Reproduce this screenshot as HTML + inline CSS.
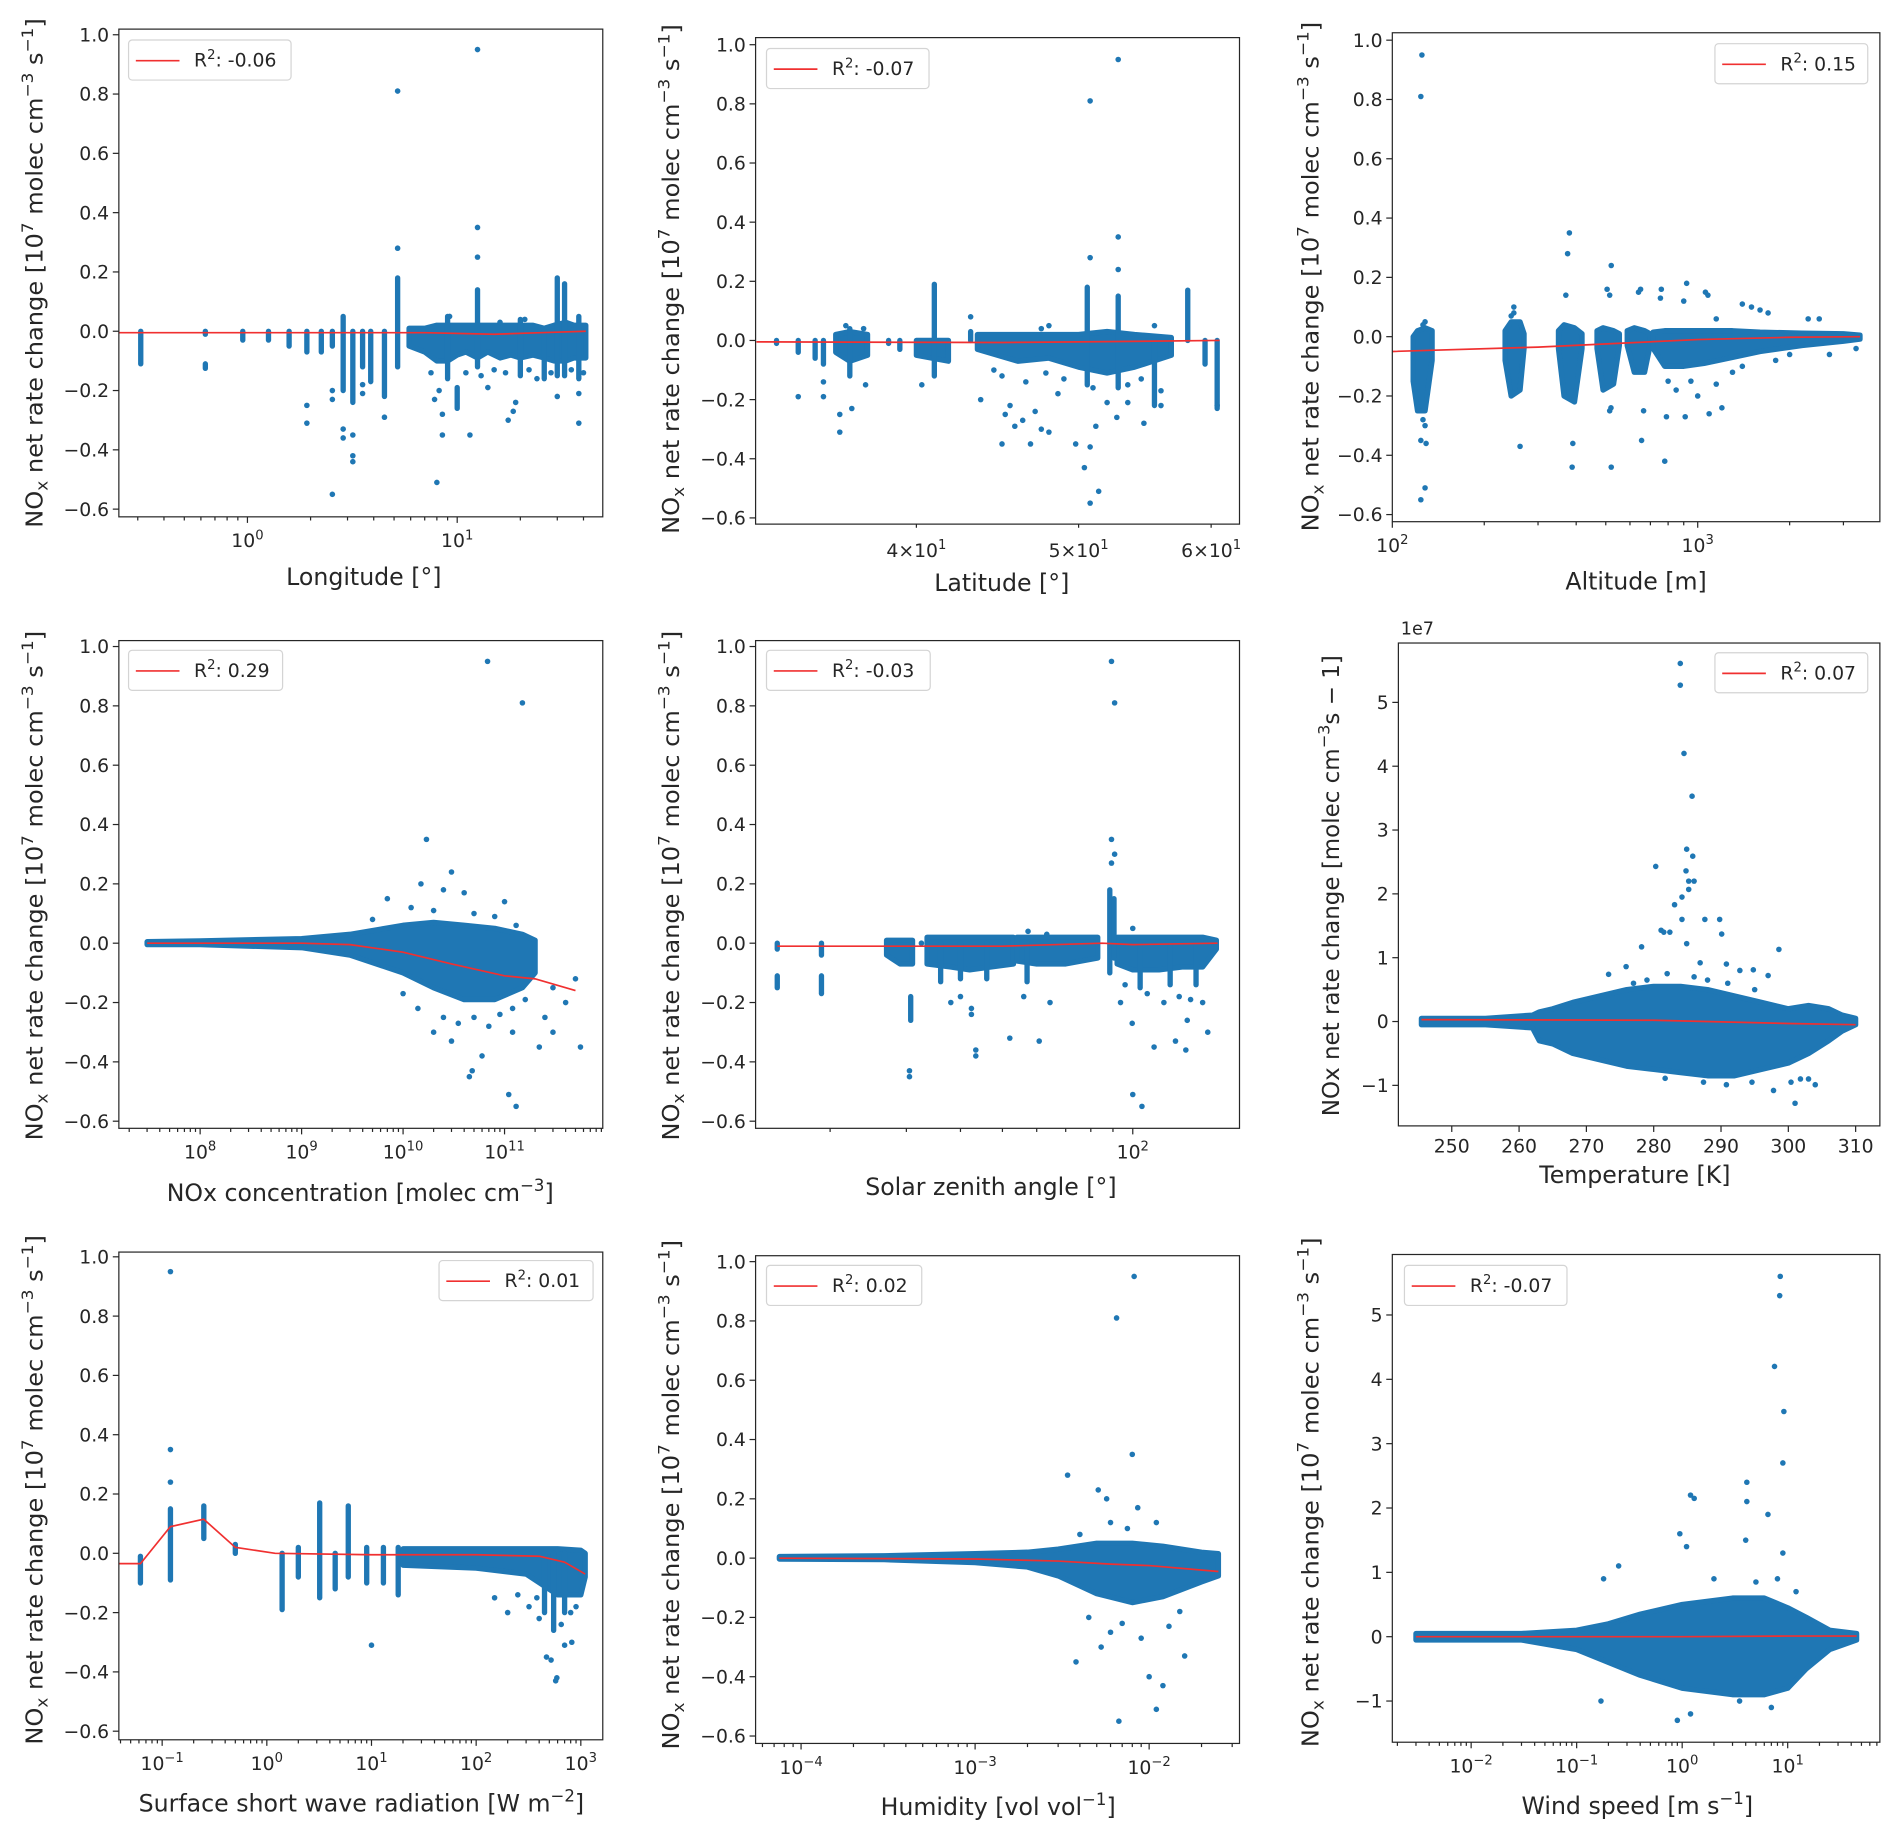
<!DOCTYPE html>
<html><head><meta charset="utf-8">
<style>
html,body{margin:0;padding:0;background:#fff;}
svg{display:block;}
text{font-family:"DejaVu Sans","Liberation Sans",sans-serif;fill:#262626;}
</style></head>
<body>
<svg id="fig" xmlns="http://www.w3.org/2000/svg" width="1892" height="1832" viewBox="0 0 1560 1510" preserveAspectRatio="none"></svg>
<script>
// ---------- data ----------
const ratioTicks = [-0.6,-0.4,-0.2,0,0.2,0.4,0.6,0.8,1.0];
const ratioTickLabels = ['\u22120.6','\u22120.4','\u22120.2','0.0','0.2','0.4','0.6','0.8','1.0'];
const absTicks = [-1,0,1,2,3,4,5];
const absTickLabels = ['\u22121','0','1','2','3','4','5'];

// Longitude
const lonCols = [[0.31,-0.11,0],[0.63,-0.01,0],[0.63,-0.125,-0.11],[0.95,-0.03,0],[1.26,-0.03,0],[1.58,-0.05,0],[1.92,-0.07,0],[2.25,-0.07,0],[2.54,-0.05,0],[2.86,-0.2,0.05],[3.18,-0.24,0],[3.54,-0.12,0],[3.87,-0.17,0],[4.5,-0.22,0],[5.2,-0.12,0.18],[12.5,-0.12,0.14],[30,-0.15,0.18],[32.5,-0.15,0.16],[10,-0.26,-0.19],[9,-0.16,0.05],[20,-0.15,0.04],[38,-0.16,0.05],[26,-0.16,0]];
const lonBands = [[[5.9,-0.05,0.01],[7,-0.07,0.01],[8,-0.1,0.02],[9,-0.1,0.02],[10,-0.08,0.02],[11,-0.07,0.02],[12.5,-0.09,0.02],[14,-0.07,0.02],[16,-0.09,0.02],[18,-0.08,0.02],[20,-0.09,0.02],[23,-0.08,0.02],[26,-0.09,0.01],[29,-0.1,0.02],[33,-0.1,0.03],[36,-0.09,0.02],[41,-0.09,0.02]]];
const lonPts = [[5.2,0.81],[5.2,0.28],[12.5,0.95],[12.5,0.35],[12.5,0.25],[1.92,-0.25],[1.92,-0.31],[2.54,-0.2],[2.54,-0.23],[2.54,-0.55],[2.86,-0.33],[2.86,-0.36],[3.18,-0.35],[3.18,-0.42],[3.18,-0.44],[3.54,-0.18],[3.54,-0.21],[4.5,-0.29],[8,-0.51],[8.5,-0.35],[8.5,-0.28],[11.5,-0.35],[7.8,-0.23],[17.5,-0.3],[18.5,-0.27],[19,-0.24],[30,-0.22],[38,-0.31],[38,-0.21],[9.2,0.05],[14,-0.19],[7.5,-0.14],[8.2,-0.2],[11,-0.14],[13,-0.15],[15,-0.13],[17,-0.14],[22,-0.13],[24,-0.16],[28,-0.14],[35,-0.13],[40,-0.14],[16,0.03],[21,0.04]];
const lonFit = [[0.244,-0.005],[7,-0.005],[15,-0.01],[25,-0.005],[41,0]];

// Latitude
const latCols = [[33,-0.01,0],[34,-0.04,0],[34.8,-0.06,0],[35.2,-0.08,0],[38.5,-0.01,0],[39.1,-0.03,0],[41,-0.12,0.19],[43.1,0,0.03],[50.6,-0.15,0.18],[52.8,-0.16,0.15],[55.5,-0.22,0],[58.1,0,0.17],[59.5,-0.08,0],[60.5,-0.23,0],[36.5,-0.12,0.04]];
const latBands = [[[35.8,-0.04,0.02],[36.5,-0.07,0.03],[37.4,-0.05,0.02]],[[40,-0.05,0],[41.8,-0.07,0]],[[43.5,-0.03,0.02],[46,-0.07,0.02],[48,-0.06,0.02],[50,-0.09,0.02],[52,-0.11,0.03],[54,-0.09,0.02],[56.8,-0.05,0.01]]];
const latPts = [[34,-0.19],[35.2,-0.19],[35.2,-0.14],[36,-0.25],[36,-0.31],[36.6,-0.23],[37.3,-0.15],[40.3,-0.15],[43.7,-0.2],[45.2,-0.25],[45.5,-0.22],[45,-0.35],[45.8,-0.29],[46.3,-0.27],[46.8,-0.35],[47.1,-0.24],[47.5,-0.3],[48,-0.31],[48.6,-0.18],[49.8,-0.35],[50.4,-0.43],[50.8,-0.36],[51.4,-0.51],[50.8,-0.55],[51.2,-0.29],[52,-0.21],[52.7,-0.26],[54.7,-0.28],[53.5,-0.21],[56,-0.22],[60.5,-0.22],[50.8,0.81],[52.8,0.95],[52.8,0.35],[52.8,0.24],[50.8,0.28],[55.5,0.05],[47.5,0.04],[48,0.05],[43.1,0.08],[36.3,0.05],[37.2,0.04],[45,-0.12],[46.5,-0.14],[49,-0.13],[51,-0.16],[53.5,-0.15],[54.5,-0.13],[56,-0.17],[44.5,-0.1],[47.8,-0.11]];
const latFit = [[32.1,-0.005],[45,-0.007],[50,-0.005],[60.7,0]];

// Altitude
const altCols = [];
const altBands = [[[117,-0.15,0.0],[121,-0.25,0.02],[128,-0.25,0.03],[135,-0.08,0.02]],[[234,-0.08,0.02],[245,-0.2,0.05],[262,-0.18,0.05],[270,-0.04,0.01]],[[350,-0.04,0.02],[365,-0.2,0.04],[395,-0.22,0.03],[418,-0.04,0.01]],[[468,-0.04,0.02],[490,-0.18,0.03],[530,-0.16,0.02],[554,-0.03,0.01]],[[588,-0.03,0.02],[620,-0.12,0.03],[670,-0.12,0.02],[698,-0.03,0.01]],[[715,-0.04,0.015],[780,-0.1,0.02],[900,-0.1,0.02],[1050,-0.09,0.02],[1300,-0.07,0.02],[1600,-0.05,0.015],[2200,-0.03,0.012],[3000,-0.015,0.01],[3400,-0.008,0.005]]];
const altPts = [[125,0.95],[124,0.81],[128,-0.51],[124,-0.55],[126,-0.28],[128,-0.3],[124,-0.35],[129,-0.36],[128,0.05],[126,0.04],[262,-0.37],[250,0.1],[250,0.08],[245,0.07],[380,0.35],[375,0.28],[370,0.14],[390,-0.36],[388,-0.44],[521,0.24],[505,0.16],[515,0.14],[521,-0.44],[515,-0.25],[520,-0.24],[650,0.16],[640,0.15],[655,-0.35],[665,-0.25],[760,0.16],[755,0.13],[780,-0.42],[790,-0.27],[920,0.18],[900,0.12],[910,-0.27],[1060,0.15],[1080,0.14],[1090,-0.26],[1150,0.06],[1400,0.11],[1500,0.1],[1600,0.09],[1700,0.08],[1200,-0.24],[1400,-0.1],[2300,0.06],[2500,0.06],[2700,-0.06],[3300,-0.04],[800,-0.15],[850,-0.18],[950,-0.15],[1000,-0.2],[1150,-0.16],[1300,-0.12],[1800,-0.08],[2000,-0.06]];
const altFit = [[100,-0.05],[300,-0.035],[1000,-0.01],[2000,-0.002],[3400,0.0]];

// NOx concentration
const noxCols = [];
const noxBands = [[[3e7,-0.005,0.005],[1e8,-0.005,0.008],[1e9,-0.015,0.015],[3e9,-0.04,0.03],[1e10,-0.1,0.06],[2e10,-0.15,0.07],[4e10,-0.19,0.06],[8e10,-0.19,0.05],[1.5e11,-0.15,0.03],[2e11,-0.1,0.01]]];
const noxPts = [[6.8e10,0.95],[1.5e11,0.81],[1.7e10,0.35],[3e10,0.24],[1.5e10,0.2],[2.5e10,0.18],[4e10,0.17],[7e9,0.15],[1e11,0.14],[1.1e11,-0.51],[1.3e11,-0.55],[4.8e10,-0.43],[4.5e10,-0.45],[2.2e11,-0.35],[5.6e11,-0.35],[3e11,-0.3],[2.5e11,-0.25],[6e10,-0.38],[3e10,-0.33],[1.2e11,-0.3],[2e10,-0.3],[4e11,-0.2],[3e11,-0.15],[5e11,-0.12],[1e10,-0.17],[1.4e10,-0.22],[2.5e10,-0.25],[3.5e10,-0.27],[5e10,-0.25],[7e10,-0.28],[9e10,-0.24],[1.2e11,-0.22],[1.6e11,-0.19],[5e9,0.08],[1.2e10,0.12],[2e10,0.11],[5e10,0.1],[8e10,0.09],[1.3e11,0.06]];
const noxFit = [[3e7,0],[1e9,0],[3e9,-0.005],[1e10,-0.03],[3e10,-0.07],[1e11,-0.11],[2e11,-0.12],[5e11,-0.16]];

// Solar zenith angle
const szaCols = [[15.1,-0.02,0],[15.1,-0.15,-0.11],[19.1,-0.04,0],[19.1,-0.17,-0.11],[30.7,-0.26,-0.18],[88.5,-0.1,0.18],[90.5,-0.05,0.15],[36,-0.13,0],[40,-0.12,0],[46,-0.12,0],[57,-0.13,0],[104,-0.15,0],[122,-0.14,0],[140,-0.14,0]];
const szaBands = [[[27,-0.04,0.01],[29,-0.07,0.01],[31,-0.07,0.01]],[[33.5,-0.07,0.02],[38,-0.08,0.02],[42,-0.09,0.02],[47,-0.08,0.02],[53,-0.07,0.02]],[[54,-0.06,0.02],[60,-0.07,0.02],[70,-0.07,0.02],[83,-0.05,0.02]],[[92,-0.07,0.02],[100,-0.09,0.02],[115,-0.09,0.02],[130,-0.08,0.02],[145,-0.08,0.02],[156,-0.02,0.01]]];
const szaPts = [[89.3,0.95],[90.8,0.81],[89.3,0.35],[90.8,0.3],[89.3,0.27],[93.7,-0.2],[99.7,-0.27],[100,-0.51],[105,-0.55],[112,-0.35],[132.6,-0.36],[133.6,-0.26],[149,-0.3],[125.5,-0.33],[56,-0.18],[60.8,-0.33],[64.4,-0.2],[57.3,0.04],[63.3,0.03],[42.4,-0.22],[42.4,-0.24],[43.4,-0.36],[43.4,-0.38],[52,-0.32],[30.5,-0.43],[30.5,-0.45],[32.5,0.0],[100,0.05],[40,-0.18],[38,-0.2],[108,-0.17],[118,-0.2],[128,-0.18],[136,-0.19],[145,-0.2],[96,-0.14]];
const szaFit = [[15.1,-0.01],[50,-0.01],[85,0],[100,-0.005],[157,0]];

// Temperature (units of 1e7)
const tempCols = [];
const tempBands = [[[245.5,-0.05,0.05],[255,-0.05,0.05],[262,-0.1,0.1],[263,-0.3,0.15],[265,-0.35,0.2],[268,-0.5,0.3],[272,-0.6,0.4],[276,-0.7,0.5],[280,-0.75,0.55],[284,-0.8,0.55],[288,-0.85,0.5],[292,-0.85,0.4],[296,-0.75,0.3],[300,-0.65,0.2],[303,-0.5,0.25],[306,-0.3,0.2],[308,-0.15,0.1],[310,-0.05,0.05]]];
const tempPts = [[283.95,5.61],[283.95,5.27],[284.5,4.2],[285.7,3.53],[284.9,2.7],[285.8,2.59],[280.3,2.43],[284.8,2.36],[285.2,2.2],[286,2.2],[285.2,2.07],[283.1,1.83],[284.2,1.95],[287.6,1.6],[289.8,1.6],[290.1,1.37],[284.2,1.6],[298.6,1.13],[281.1,1.43],[281.5,1.4],[282.4,1.4],[278.2,1.17],[284.9,1.22],[290.8,0.9],[294.8,0.81],[292.8,0.8],[297,0.72],[273.3,0.74],[275.9,0.86],[286.9,0.92],[301,-1.28],[297.8,-1.08],[304,-0.99],[290.8,-0.99],[281.7,-0.89],[287.4,-0.95],[294.6,-0.95],[300.4,-0.95],[301.8,-0.9],[303,-0.9],[279,0.65],[282,0.75],[286,0.7],[288,0.65],[291,0.6],[295,0.5],[277,0.6]];
const tempFit = [[245.5,0.03],[280,0.02],[300,-0.03],[310,-0.05]];

// Surface short wave radiation
const swCols = [[0.062,-0.1,-0.01],[0.12,-0.09,0.15],[0.25,0.05,0.16],[0.5,0.0,0.03],[1.4,-0.19,0.0],[2,-0.08,0.02],[3.2,-0.15,0.17],[4.5,-0.12,0.0],[6,-0.08,0.16],[9,-0.1,0.02],[13,-0.1,0.02],[18,-0.14,0.02],[450,-0.2,0],[550,-0.26,0],[700,-0.2,0]];
const swBands = [[[20,-0.04,0.015],[100,-0.05,0.015],[300,-0.07,0.015],[600,-0.14,0.015],[1000,-0.14,0.01],[1100,-0.08,0.0]]];
const swPts = [[0.12,0.95],[0.12,0.35],[0.12,0.24],[10,-0.31],[575,-0.43],[590,-0.42],[520,-0.36],[470,-0.35],[700,-0.31],[820,-0.3],[200,-0.2],[400,-0.22],[800,-0.2],[150,-0.15],[250,-0.14],[320,-0.18],[380,-0.15],[650,-0.24],[900,-0.18]];
const swFit = [[0.0386,-0.035],[0.062,-0.035],[0.12,0.09],[0.25,0.115],[0.5,0.02],[1.2,0],[10,-0.005],[100,-0.005],[400,-0.01],[700,-0.03],[1100,-0.07]];

// Humidity
const humCols = [];
const humBands = [[[7.5e-5,-0.003,0.005],[3e-4,-0.005,0.008],[1e-3,-0.015,0.015],[2e-3,-0.03,0.02],[3e-3,-0.06,0.03],[5e-3,-0.12,0.05],[8e-3,-0.15,0.05],[1.2e-2,-0.13,0.04],[2e-2,-0.08,0.02],[2.5e-2,-0.06,0.015]]];
const humPts = [[8.2e-3,0.95],[6.5e-3,0.81],[8e-3,0.35],[3.4e-3,0.28],[5.1e-3,0.23],[5.7e-3,0.2],[8.6e-3,0.17],[1.1e-2,0.12],[6.7e-3,-0.55],[1.1e-2,-0.51],[1.2e-2,-0.43],[1.0e-2,-0.4],[3.8e-3,-0.35],[1.6e-2,-0.33],[5.3e-3,-0.3],[4.5e-3,-0.2],[6e-3,-0.25],[7e-3,-0.22],[9e-3,-0.27],[1.3e-2,-0.23],[1.5e-2,-0.18],[7.5e-3,0.1],[4e-3,0.08],[6e-3,0.12]];
const humFit = [[7.5e-5,0],[1e-3,-0.003],[3e-3,-0.01],[6e-3,-0.02],[1e-2,-0.025],[2.5e-2,-0.045]];

// Wind speed (units of 1e7)
const windCols = [];
const windBands = [[[0.003,-0.05,0.05],[0.03,-0.05,0.05],[0.1,-0.2,0.1],[0.2,-0.4,0.2],[0.4,-0.6,0.35],[1,-0.8,0.5],[3,-0.9,0.6],[6,-0.9,0.6],[10,-0.8,0.45],[15,-0.5,0.3],[25,-0.2,0.1],[45,-0.05,0.05]]];
const windPts = [[8.5,5.6],[8.4,5.3],[7.5,4.2],[9.2,3.5],[9,2.7],[4.1,2.4],[1.2,2.2],[1.3,2.15],[4.1,2.1],[6.5,1.9],[0.95,1.6],[4,1.5],[1.1,1.4],[9,1.3],[0.25,1.1],[0.18,0.9],[0.17,-1.0],[0.9,-1.3],[1.2,-1.2],[7,-1.1],[3.5,-1.0],[2,0.9],[5,0.85],[8,0.9],[12,0.7]];
const windFit = [[0.003,0],[1,0],[10,0.01],[45,0.01]];

// ---------- layout ----------
const yLab10 = [['NO',0],['x',-1],[' net rate change [10',0],['7',1],[' molec cm',0],['\u22123',1],[' s',0],['\u22121',1],[']',0]];
const panels = [
 {id:'longitude',x0:98,y0:24,w:399,h:402,xlog:true,xd:[-0.613,1.694],yd:[-0.626,1.019],yt:ratioTicks,ytl:ratioTickLabels,cols:lonCols,bands:lonBands,pts:lonPts,fit:lonFit,leg:[106,33,134,'-0.06'],xl:[['Longitude [\u00b0]',0]],xlp:[300,482],yl:yLab10,ylp:[35,225,420]},
 {id:'latitude',x0:623,y0:31,w:399,h:401,xlog:true,xd:[1.506,1.7951],yd:[-0.621,1.024],yt:ratioTicks,ytl:ratioTickLabels,cols:latCols,bands:latBands,pts:latPts,fit:latFit,leg:[632,40,134,'-0.07'],xl:[['Latitude [\u00b0]',0]],xlp:[826,487],yl:yLab10,ylp:[560,230,420],custom:[[40,'4\u00d710'],[50,'5\u00d710'],[60,'6\u00d710']]},
 {id:'altitude',x0:1148,y0:27,w:402,h:403,xlog:true,xd:[2.0,3.5965],yd:[-0.624,1.025],yt:ratioTicks,ytl:ratioTickLabels,cols:altCols,bands:altBands,pts:altPts,fit:altFit,leg:[1414,36,126,'0.15'],xl:[['Altitude [m]',0]],xlp:[1349,486],yl:yLab10,ylp:[1087,228,420]},
 {id:'nox-concentration',x0:98,y0:528,w:399,h:402,xlog:true,xd:[7.199,11.968],yd:[-0.624,1.02],yt:ratioTicks,ytl:ratioTickLabels,cols:noxCols,bands:noxBands,pts:noxPts,fit:noxFit,leg:[106,536,127,'0.29'],xl:[['NOx concentration [molec cm',0],['\u22123',1],[']',0]],xlp:[297,990],yl:yLab10,ylp:[35,730,420]},
 {id:'solar-zenith',x0:623,y0:528,w:399,h:402,xlog:true,xd:[1.1289,2.2465],yd:[-0.624,1.02],yt:ratioTicks,ytl:ratioTickLabels,cols:szaCols,bands:szaBands,pts:szaPts,fit:szaFit,leg:[632,536,135,'-0.03'],xl:[['Solar zenith angle [\u00b0]',0]],xlp:[817,985],yl:yLab10,ylp:[560,730,420]},
 {id:'temperature',x0:1153,y0:530,w:397,h:398,xlog:false,xd:[242.07,313.6],yd:[-1.635,5.93],yt:absTicks,ytl:absTickLabels,cols:tempCols,bands:tempBands,pts:tempPts,fit:tempFit,leg:[1414,538,126,'0.07'],xl:[['Temperature [K]',0]],xlp:[1348,975],yl:[['NOx net rate change [molec cm',0],['\u22123',1],['s \u2212 1]',0]],ylp:[1104,730,380],lin:[250,260,270,280,290,300,310],offset:'1e7'},
 {id:'shortwave-radiation',x0:98,y0:1032,w:399,h:402,xlog:true,xd:[-1.4137,3.2097],yd:[-0.629,1.016],yt:ratioTicks,ytl:ratioTickLabels,cols:swCols,bands:swBands,pts:swPts,fit:swFit,leg:[362,1039,127,'0.01'],xl:[['Surface short wave radiation [W m',0],['\u22122',1],[']',0]],xlp:[298,1493],yl:yLab10,ylp:[35,1228,420]},
 {id:'humidity',x0:623,y0:1035,w:399,h:402,xlog:true,xd:[-4.2613,-1.4808],yd:[-0.625,1.02],yt:ratioTicks,ytl:ratioTickLabels,cols:humCols,bands:humBands,pts:humPts,fit:humFit,leg:[632,1043,128,'0.02'],xl:[['Humidity [vol vol',0],['\u22121',1],[']',0]],xlp:[823,1496],yl:yLab10,ylp:[560,1232,420]},
 {id:'wind-speed',x0:1148,y0:1034,w:402,h:402,xlog:true,xd:[-2.747,1.8736],yd:[-1.64,5.94],yt:absTicks,ytl:absTickLabels,cols:windCols,bands:windBands,pts:windPts,fit:windFit,leg:[1158,1043,134,'-0.07'],xl:[['Wind speed [m s',0],['\u22121',1],[']',0]],xlp:[1350,1495],yl:yLab10,ylp:[1087,1230,420]}
];

// ---------- drawing ----------
const NS='http://www.w3.org/2000/svg';
const svg=document.getElementById('fig');
const BLUE='#1f77b4';
function mk(tag,attrs,parent){const e=document.createElementNS(NS,tag);for(const k in attrs)e.setAttribute(k,attrs[k]);parent.appendChild(e);return e;}
function rich(parent,x,y,parts,fs,attrs){
  const t=mk('text',Object.assign({x:x,y:y,'font-size':fs},attrs||{}),parent);
  let cur=0;
  parts.forEach(([s,m])=>{
    const target=m===1?-fs*0.42:(m===-1?fs*0.22:0);
    const ts=mk('tspan',{dy:(target-cur).toFixed(2),'font-size':m?fs*0.7:fs},t);
    ts.textContent=s;cur=target;
  });
  return t;
}
function supNum(n){return n<0?'\u2212'+(-n):String(n);}

panels.forEach(p=>{
  const g=mk('g',{},svg);
  
  
  const sx=v=>p.x0+((p.xlog?Math.log10(v):v)-p.xd[0])/(p.xd[1]-p.xd[0])*p.w;
  const sy=v=>p.y0+p.h-(v-p.yd[0])/(p.yd[1]-p.yd[0])*p.h;
  const clipId='clip-'+p.id;
  const cp=mk('clipPath',{id:clipId},g);
  mk('rect',{x:p.x0,y:p.y0,width:p.w,height:p.h},cp);
  const plot=mk('g',{'clip-path':'url(#'+clipId+')'},g);
  
  
  p.bands.forEach(b=>{
    const up=b.map(d=>sx(d[0]).toFixed(1)+','+sy(d[2]).toFixed(1));
    const lo=b.slice().reverse().map(d=>sx(d[0]).toFixed(1)+','+sy(d[1]).toFixed(1));
    const poly=mk('polygon',{points:up.concat(lo).join(' '),fill:BLUE,stroke:BLUE,'stroke-width':4.4,'stroke-linejoin':'round'},plot);
    
    
  });
  p.cols.forEach(c=>{
    const ln=mk('line',{x1:sx(c[0]),x2:sx(c[0]),y1:sy(c[1]),y2:sy(c[2]),stroke:BLUE,'stroke-width':4.4,'stroke-linecap':'round'},plot);
    
    
  });
  p.pts.forEach(d=>{
    const c=mk('circle',{cx:sx(d[0]),cy:sy(d[1]),r:2.3,fill:BLUE},plot);
    
    
  });
  const fl=mk('polyline',{points:p.fit.map(d=>sx(d[0]).toFixed(1)+','+sy(d[1]).toFixed(1)).join(' '),fill:'none',stroke:'#f03030','stroke-width':1.4},plot);
  
  
  const fr=mk('rect',{x:p.x0,y:p.y0,width:p.w,height:p.h,fill:'none',stroke:'#262626','stroke-width':1},g);
  
  
  p.yt.forEach((v,i)=>{
    const y=sy(v);
    mk('line',{x1:p.x0-5,x2:p.x0,y1:y,y2:y,stroke:'#262626','stroke-width':1},g);
    const t=mk('text',{x:p.x0-8,y:y+5.5,'font-size':15.5,'text-anchor':'end'},g);
    t.textContent=p.ytl[i];
    
    
  });
  const by=p.y0+p.h;
  if(!p.xlog){
    p.lin.forEach(v=>{
      const x=sx(v);
      mk('line',{x1:x,x2:x,y1:by,y2:by+5,stroke:'#262626','stroke-width':1},g);
      const t=mk('text',{x:x,y:by+22,'font-size':15.5,'text-anchor':'middle'},g);
      t.textContent=String(v);
      
      
    });
  } else if(p.custom){
    p.custom.forEach(([v,s])=>{
      const x=sx(v);
      mk('line',{x1:x,x2:x,y1:by,y2:by+3,stroke:'#262626','stroke-width':1},g);
      const t=rich(g,x,by+27,[[s,0],['1',1]],15.5,{'text-anchor':'middle'});
      
      
    });
  } else {
    for(let e=Math.floor(p.xd[0]);e<=Math.ceil(p.xd[1]);e++){
      for(let m=1;m<=9;m++){
        const lv=e+Math.log10(m);
        if(lv<p.xd[0]-1e-6||lv>p.xd[1]+1e-6)continue;
        const x=sx(Math.pow(10,lv));
        mk('line',{x1:x,x2:x,y1:by,y2:by+(m===1?5:3),stroke:'#262626','stroke-width':1},g);
        if(m===1){
          const t=rich(g,x,by+25,[['10',0],[supNum(e),1]],15.5,{'text-anchor':'middle'});
          
          
        }
      }
    }
  }
  const xl=rich(g,p.xlp[0],p.xlp[1],p.xl,19.5,{'text-anchor':'middle'});
  
  
  const yl=rich(g,p.ylp[0],p.ylp[1],p.yl,19,{'text-anchor':'middle',transform:'rotate(-90 '+p.ylp[0]+' '+p.ylp[1]+')',textLength:p.ylp[2],lengthAdjust:'spacingAndGlyphs'});
  
  
  if(p.offset){
    const ot=mk('text',{x:p.x0+2,y:p.y0-7,'font-size':14.5},g);
    ot.textContent=p.offset;
    
    
  }
  const [lx,ly,lw,lr]=p.leg;
  const lg=mk('g',{},g);
  
  
  mk('rect',{x:lx,y:ly,width:lw,height:33,rx:3,fill:'#fff','fill-opacity':0.85,stroke:'#d4d4d4','stroke-width':1},lg);
  const ll=mk('line',{x1:lx+6,x2:lx+42,y1:ly+17,y2:ly+17,stroke:'#f03030','stroke-width':1.4},lg);
  
  
  const lt=rich(lg,lx+54,ly+22,[['R',0],['2',1],[': '+lr,0]],15.5,{});
  
  
});
</script>
</body></html>
